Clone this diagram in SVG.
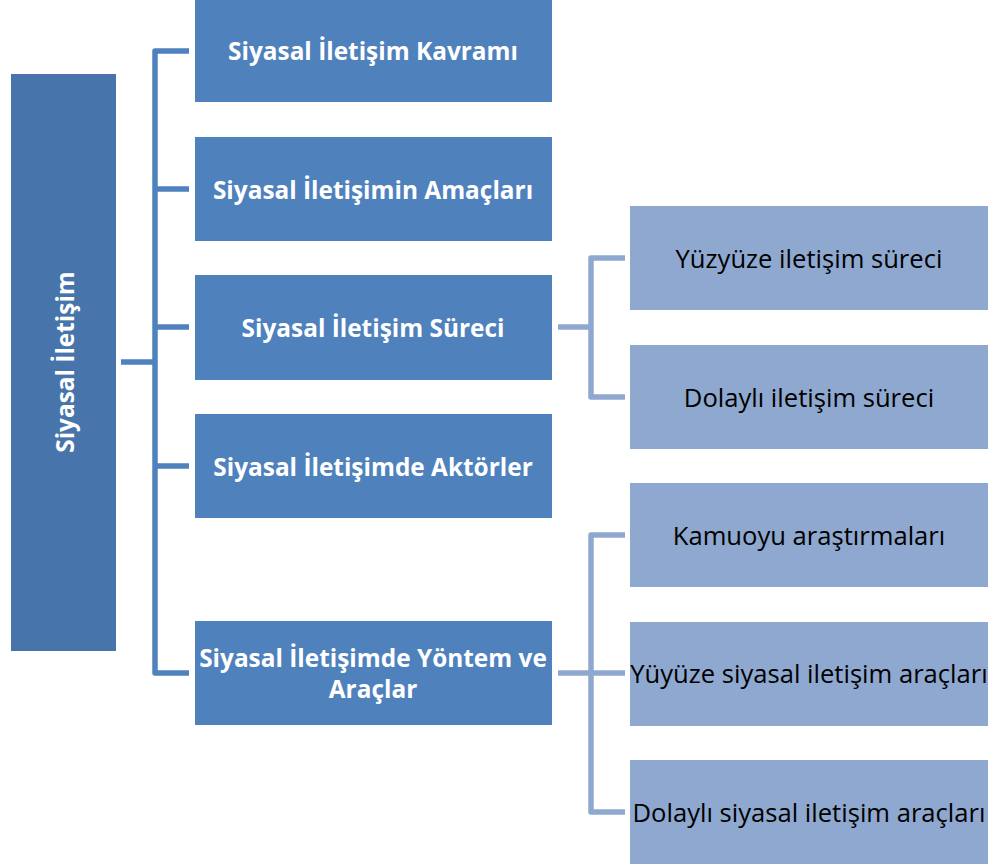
<svg xmlns="http://www.w3.org/2000/svg" width="1003" height="867" viewBox="0 0 1003 867">
  <style>
    .root { fill: #4774aa; }
    .l1 { fill: #4f81bd; }
    .l2 { fill: #8ea8cf; }
    .t1 { font-family: "Open Sans", "Liberation Sans", sans-serif; font-weight: bold; font-size: 24.4px; fill: #ffffff; text-anchor: middle; dominant-baseline: central; }
    .t2 { font-family: "Open Sans", "Liberation Sans", sans-serif; font-size: 25.6px; fill: #000000; text-anchor: middle; dominant-baseline: central; }
    .c1 { fill: none; stroke: #4f81bd; stroke-width: 5.5; stroke-linejoin: round; }
    .c2 { fill: none; stroke: #8ea8cf; stroke-width: 5.5; stroke-linejoin: round; }
  </style>
  <rect width="1003" height="867" fill="#ffffff"/>

  <g id="connectors">
    <!-- root to first level -->
    <path class="c1" d="M121 362 H155"/>
    <path class="c1" d="M189 51 H155 V673 H189"/>
    <path class="c1" d="M155 189 H189 M155 327 H189 M155 466 H189"/>
    <!-- process branch -->
    <path class="c2" d="M558 327 H591"/>
    <path class="c2" d="M625 258 H591 V397 H625"/>
    <!-- methods branch -->
    <path class="c2" d="M558 673 H625"/>
    <path class="c2" d="M625 535 H591 V812 H625"/>
  </g>

  <g id="root">
    <rect class="root" x="11" y="74" width="105" height="577"/>
    <text class="t1" transform="translate(64 362) rotate(-90)">Siyasal İletişim</text>
  </g>

  <g id="n-kavram">
    <rect class="l1" x="195" y="-1" width="357" height="103"/>
    <text class="t1" x="373" y="50">Siyasal İletişim Kavramı</text>
  </g>
  <g id="n-amac">
    <rect class="l1" x="195" y="137" width="357" height="104"/>
    <text class="t1" x="373" y="189">Siyasal İletişimin Amaçları</text>
  </g>
  <g id="n-surec">
    <rect class="l1" x="195" y="275" width="357" height="105"/>
    <text class="t1" x="373" y="327">Siyasal İletişim Süreci</text>
  </g>
  <g id="n-aktor">
    <rect class="l1" x="195" y="414" width="357" height="104"/>
    <text class="t1" x="373" y="466">Siyasal İletişimde Aktörler</text>
  </g>
  <g id="n-yontem">
    <rect class="l1" x="195" y="621" width="357" height="104"/>
    <text class="t1" x="373" y="657">Siyasal İletişimde Yöntem ve</text>
    <text class="t1" x="373" y="688">Araçlar</text>
  </g>

  <g id="n-yuzyuze">
    <rect class="l2" x="630" y="206" width="358" height="104"/>
    <text class="t2" x="809" y="258">Yüzyüze iletişim süreci</text>
  </g>
  <g id="n-dolayli">
    <rect class="l2" x="630" y="345" width="358" height="104"/>
    <text class="t2" x="809" y="397">Dolaylı iletişim süreci</text>
  </g>
  <g id="n-kamuoyu">
    <rect class="l2" x="630" y="483" width="358" height="104"/>
    <text class="t2" x="809" y="535">Kamuoyu araştırmaları</text>
  </g>
  <g id="n-yuyuze-arac">
    <rect class="l2" x="630" y="622" width="358" height="104"/>
    <text class="t2" x="809" y="673">Yüyüze siyasal iletişim araçları</text>
  </g>
  <g id="n-dolayli-arac">
    <rect class="l2" x="630" y="760" width="358" height="104"/>
    <text class="t2" x="809" y="812">Dolaylı siyasal iletişim araçları</text>
  </g>
</svg>
